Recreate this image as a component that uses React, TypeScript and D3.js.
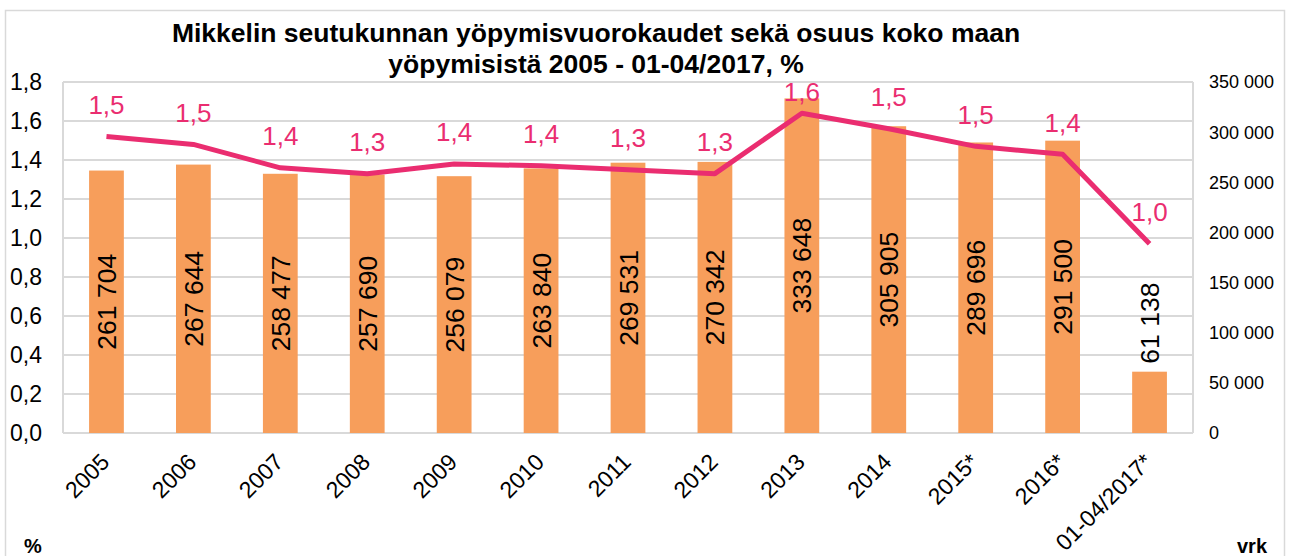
import React from "react";
import * as d3 from "d3";

const categories = ["2005","2006","2007","2008","2009","2010","2011","2012","2013","2014","2015*","2016*","01-04/2017*"];
const nights = [261704,267644,258477,257690,256079,263840,269531,270342,333648,305905,289696,291500,61138];
const sharePct = [1.52,1.48,1.36,1.33,1.38,1.37,1.35,1.33,1.64,1.56,1.47,1.43,0.97];
const shareLabels = ["1,5","1,5","1,4","1,3","1,4","1,4","1,3","1,3","1,6","1,5","1,5","1,4","1,0"];
const leftTicks = [0,0.2,0.4,0.6,0.8,1.0,1.2,1.4,1.6,1.8];
const rightTicks = [0,50000,100000,150000,200000,250000,300000,350000];
const titleLines = ["Mikkelin seutukunnan yöpymisvuorokaudet sekä osuus koko maan","yöpymisistä 2005 - 01-04/2017, %"];

const W = 1290, H = 556;
const plot = { left: 63, right: 1193, top: 82, bottom: 433 };
const FONT = "Arial, 'Liberation Sans', sans-serif";
const BAR = "#f79e5b";
const LINE = "#ea2d70";
const GRID = "#d9d9d9";

const fmtNum = (v: number) => d3.format(",")(v).replace(/,/g, " ");
const fmtPct = (v: number) => v.toFixed(1).replace(".", ",");

export default function App() {
  const x = d3.scaleBand<string>().domain(categories).range([plot.left, plot.right]).paddingInner(0.6).paddingOuter(0.3);
  const xc = (c: string) => (x(c) as number) + x.bandwidth() / 2;
  const yL = d3.scaleLinear().domain([0, 1.8]).range([plot.bottom, plot.top]);
  const yR = d3.scaleLinear().domain([0, 350000]).range([plot.bottom, plot.top]);
  const line = d3.line<number>().x((_, i) => xc(categories[i])).y((d) => yL(d)).curve(d3.curveLinear);

  return (
    <svg width={W} height={H} style={{ position: "absolute", left: 0, top: 0, background: "#fff" }} fontFamily={FONT}>
      <rect x={5.5} y={10.5} width={1279} height={560} fill="#fff" stroke={GRID} strokeWidth={1.5} />
      {titleLines.map((t, i) => (
        <text key={i} x={596} y={42 + i * 31} textAnchor="middle" fontWeight="bold" fontSize={26.5} fill="#000">{t}</text>
      ))}
      {leftTicks.map((t) => (
        <line key={"g" + t} x1={plot.left} x2={plot.right} y1={yL(t)} y2={yL(t)} stroke={GRID} strokeWidth={2} />
      ))}
      <line x1={plot.left} x2={plot.left} y1={plot.top} y2={plot.bottom} stroke={GRID} strokeWidth={2} />
      <line x1={plot.right} x2={plot.right} y1={plot.top} y2={plot.bottom} stroke={GRID} strokeWidth={2} />
      {leftTicks.map((t) => (
        <text key={"l" + t} x={42} y={yL(t)} dy="0.36em" textAnchor="end" fontSize={23} fill="#000">{fmtPct(t)}</text>
      ))}
      {rightTicks.map((t) => (
        <text key={"r" + t} x={1209} y={yR(t)} dy="0.36em" textAnchor="start" fontSize={18} fill="#000">{fmtNum(t)}</text>
      ))}
      {categories.map((c, i) => (
        <rect key={"b" + c} x={x(c)} y={yR(nights[i])} width={x.bandwidth()} height={plot.bottom - yR(nights[i])} fill={BAR} />
      ))}
      <path d={line(sharePct) || ""} fill="none" stroke={LINE} strokeWidth={5} strokeLinejoin="round" />
      {categories.map((c, i) => {
        const top = yR(nights[i]);
        const mid = (top + plot.bottom) / 2;
        const fits = plot.bottom - top > 110;
        const cx = xc(c);
        return fits ? (
          <text key={"bl" + c} transform={`translate(${cx},${mid}) rotate(-90)`} textAnchor="middle" dy="0.36em" fontSize={26.5} fill="#000">{fmtNum(nights[i])}</text>
        ) : (
          <text key={"bl" + c} transform={`translate(${cx},${top - 8}) rotate(-90)`} textAnchor="start" dy="0.36em" fontSize={26.5} fill="#000">{fmtNum(nights[i])}</text>
        );
      })}
      {categories.map((c, i) => (
        <text key={"pl" + c} x={xc(c)} y={Math.max(yL(sharePct[i]) - 32, plot.top + 10)} dy="0.36em" textAnchor="middle" fontSize={26} fill={LINE}>{shareLabels[i]}</text>
      ))}
      {categories.map((c) => (
        <text key={"xl" + c} transform={`translate(${xc(c) - 7},${452}) rotate(-45)`} textAnchor="end" dy="0.7em" fontSize={23} fill="#000">{c}</text>
      ))}
      <text x={33} y={553} textAnchor="middle" fontWeight="bold" fontSize={20} fill="#000">%</text>
      <text x={1252} y={553} textAnchor="middle" fontWeight="bold" fontSize={20} fill="#000">vrk</text>
    </svg>
  );
}
